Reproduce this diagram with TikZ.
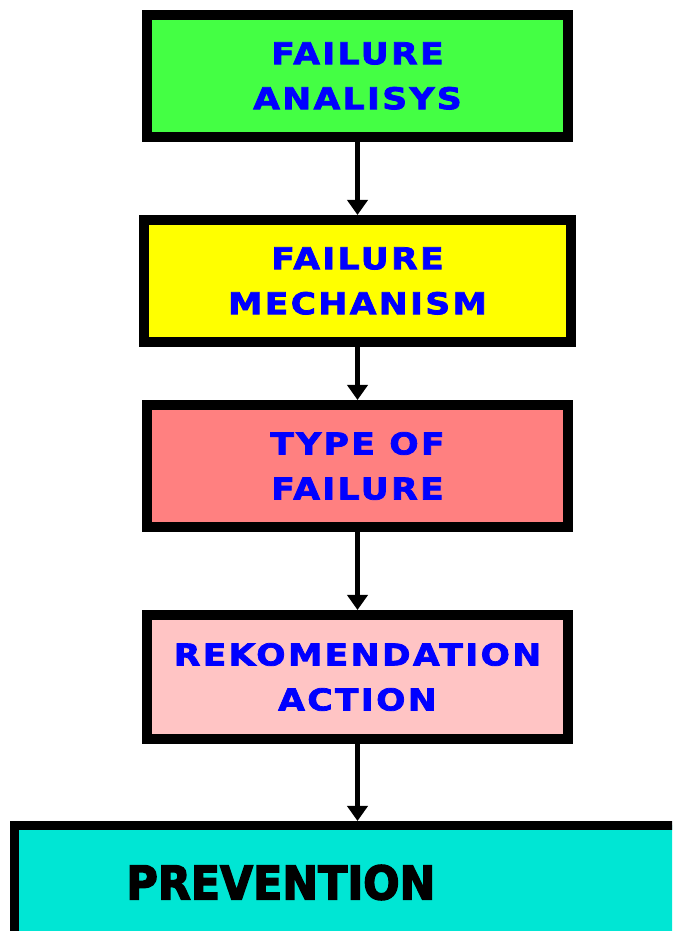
\documentclass[tikz,border=0pt]{standalone}
\usepackage{fontspec}
\newfontfamily\boxfont[LetterSpace=8, FakeStretch=1.15, FakeBold=2.5]{DejaVu Sans}
\newfontfamily\lastfont[FakeStretch=0.92, FakeBold=3]{DejaVu Sans}
\usepackage{xcolor}
\usepackage{tikz}
\usetikzlibrary{arrows.meta, positioning}

\definecolor{boxgreen}{RGB}{68,255,68}
\definecolor{boxyellow}{RGB}{255,255,0}
\definecolor{boxred}{RGB}{255,128,128}
\definecolor{boxpink}{RGB}{255,196,196}
\definecolor{boxcyan}{RGB}{0,230,212}

\begin{document}
\begin{tikzpicture}[x=1pt, y=1pt,
  stepbox/.style={rectangle, draw, line width=10pt, minimum width=421pt,
    minimum height=122pt, inner sep=0pt, align=center, text=blue,
    font=\boxfont\bfseries\fontsize{30}{45}\selectfont},
  flow/.style={line width=5pt, -{Triangle[width=20pt, length=15pt]}}]
\path[use as bounding box, clip] (0,0) rectangle (672,931);
\fill[white] (0,0) rectangle (672,931);

\node (fa) [stepbox, fill=boxgreen] at (357.5,855) {FAILURE\\ANALISYS};
\node (fm) [stepbox, fill=boxyellow, minimum width=427pt, below=73pt of fa] {FAILURE\\MECHANISM};
\node (tf) [stepbox, fill=boxred, below=53pt of fm] {TYPE OF\\FAILURE};
\node (ra) [stepbox, fill=boxpink, minimum height=124pt, below=78pt of tf] {REKOMENDATION\\ACTION};
% last box runs off the right edge
\node (pv) [rectangle, draw, line width=9pt, fill=boxcyan, anchor=north west,
  minimum height=114pt, text width=520pt, inner xsep=112pt, align=left,
  font=\lastfont\bfseries\fontsize{46.5}{50}\selectfont] at (10,110) {PREVENTION};

\draw [flow] (fa) -- (fm);
\draw [flow] (fm) -- (tf);
\draw [flow] (tf) -- (ra);
\draw [flow] (ra.south) -- (ra.south |- pv.north);
\end{tikzpicture}
\end{document}
